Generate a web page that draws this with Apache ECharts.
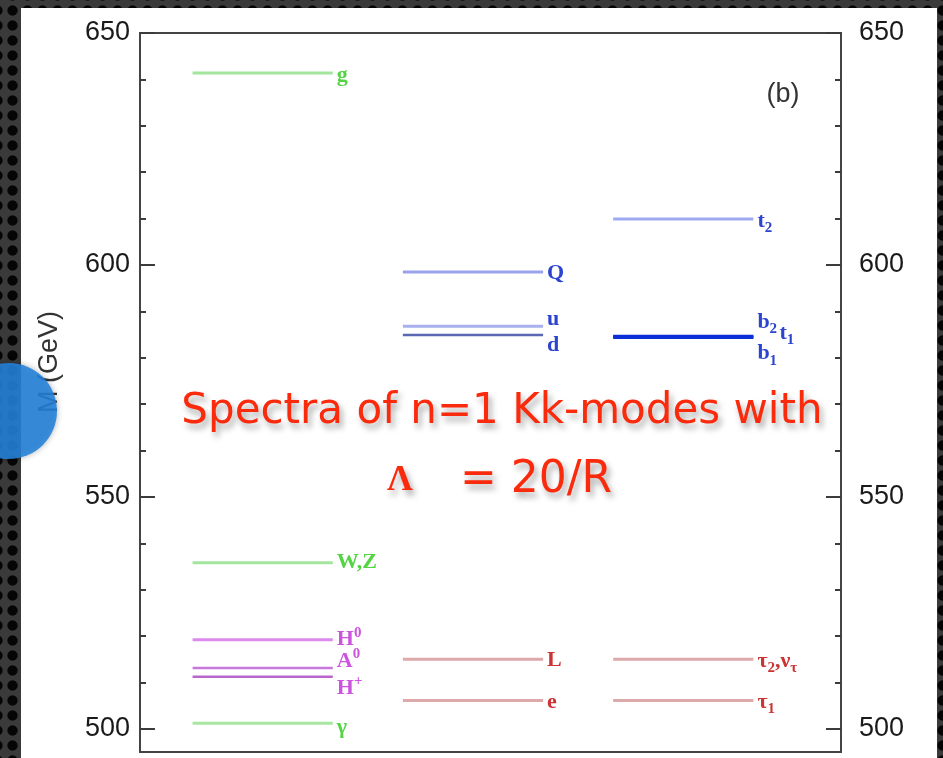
<!DOCTYPE html>
<html>
<head>
<meta charset="utf-8">
<script src="https://cdn.jsdelivr.net/npm/echarts@6/dist/echarts.min.js"></script>
<style>
  html, body {
    margin: 0; padding: 0; width: 943px; height: 758px; overflow: hidden;
    background-color: #3a3a3a;
    background-image: radial-gradient(circle, #050505 0, #050505 4.6px, rgba(0,0,0,0) 5.6px);
    background-size: 15px 15px;
    background-position: 5px 3px;
  }
  #panel { position: absolute; left: 21px; top: 8px; width: 916px; height: 750px; background: #fff; }
  #chart { position: absolute; left: 0; top: 0; width: 943px; height: 758px; }
</style>
</head>
<body>
<div id="panel"></div>
<div id="chart"></div>
<script>
// Mass axis (GeV)
const MASS_MIN = 495;
const MASS_MAX = 650;
const MAJOR_TICKS = [500, 550, 600, 650];
const MINOR_TICKS = [510, 520, 530, 540, 560, 570, 580, 590, 610, 620, 630, 640];

// Column index: 0 = gauge/Higgs, 1 = first-generation, 2 = third-generation
// Gauge bosons
const bosonLabels = ['g', 'W,Z', 'γ'];
const bosonMass   = [641.4, 535.8, 501.2];
const bosonCol    = [0, 0, 0];

// Higgs states
const higgsLabels = ['H{sup|0}', 'A{sup|0}', 'H{sup|+}'];
const higgsMass   = [519.2, 513.1, 511.2];
const higgsCol    = [0, 0, 0];

// Quarks
const quarkLabels = ['Q', 'u', 'd', 't{sub|2}', 'b{sub|2}', 't{sub|1}', 'b{sub|1}'];
const quarkMass   = [598.5, 586.8, 584.9, 609.9, 584.7, 584.5, 584.3];
const quarkCol    = [1, 1, 1, 2, 2, 2, 2];

// Leptons
const leptonLabels = ['L', 'e', 'τ{sub|2},ν{sub|τ}', 'τ{sub|1}'];
const leptonMass   = [515.0, 506.1, 515.0, 506.1];
const leptonCol    = [1, 1, 2, 2];

// ---- drawing styles ----
const COL_START = 7.5, COL_STEP = 30, COL_WIDTH = 20;   // x-axis units (0..100)
const LABEL_FONT = 'bold 22px "Liberation Serif", serif';
const SCRIPT_FONT = 'bold 15px "Liberation Serif", serif';
const SCRIPT_SHIFT = { sub: 7, sup: -7 };

const measureCtx = document.createElement('canvas').getContext('2d');
function textWidth(t, font) { measureCtx.font = font; return measureCtx.measureText(t).width; }

// split "t{sub|2}" style markup into runs
function parseRuns(s) {
  const runs = [];
  const re = /\{(sub|sup)\|([^}]*)\}/g;
  let last = 0, m;
  while ((m = re.exec(s))) {
    if (m.index > last) runs.push({ t: s.slice(last, m.index), kind: 'base' });
    runs.push({ t: m[2], kind: m[1] });
    last = re.lastIndex;
  }
  if (last < s.length) runs.push({ t: s.slice(last), kind: 'base' });
  return runs;
}

const families = [
  { labels: bosonLabels, mass: bosonMass, col: bosonCol, text: '#52d443',
    line: ['#a4e59e', '#a4e59e', '#a8e6a2'], width: [3, 3, 3],
    offset: [[0, 2], [0, 0], [0, 4]] },
  { labels: higgsLabels, mass: higgsMass, col: higgsCol, text: '#cc55dd',
    line: ['#dc8aec', '#c878dc', '#b866cc'], width: [3, 2.5, 2.5],
    offset: [[0, 0], [0, -7], [0, 11]] },
  { labels: quarkLabels, mass: quarkMass, col: quarkCol, text: '#2c44d0',
    line: ['#9aa2ea', '#a9b0ee', '#5a68b4', '#9eabf2', '#0c2fd6', '#0c2fd6', '#0c2fd6'],
    width: [3, 3, 2.5, 3, 2.5, 2.5, 2.5],
    offset: [[0, 1], [0, -7], [0, 10], [0, 2], [0, -14], [22, -4], [0, 16]] },
  { labels: leptonLabels, mass: leptonMass, col: leptonCol, text: '#cc3333',
    line: ['#dcaaaa', '#dcaaaa', '#dcaaaa', '#dcaaaa'], width: [3, 3, 3, 3],
    offset: [[0, 1], [0, 2], [0, 2], [0, 2]] }
];

function levelSeries(f) {
  return {
    type: 'custom',
    coordinateSystem: 'cartesian2d',
    clip: false,
    data: f.mass.map((m, i) => [f.col[i], m, i]),
    renderItem(params, api) {
      const col = api.value(0), m = api.value(1), i = api.value(2);
      const x0 = COL_START + COL_STEP * col;
      const a = api.coord([x0, m]);
      const b = api.coord([x0 + COL_WIDTH, m]);
      const off = f.offset[i];
      const children = [
        { type: 'line', shape: { x1: a[0], y1: a[1], x2: b[0], y2: b[1] },
          style: { stroke: f.line[i], lineWidth: f.width[i] } }
      ];
      let x = b[0] + 4 + off[0];
      const y = b[1] + off[1];
      parseRuns(f.labels[i]).forEach(r => {
        const font = r.kind === 'base' ? LABEL_FONT : SCRIPT_FONT;
        const dy = r.kind === 'base' ? 0 : SCRIPT_SHIFT[r.kind];
        children.push({ type: 'text', x: x, y: y + dy,
          style: { text: r.t, fill: f.text, font: font, align: 'left', verticalAlign: 'middle' } });
        x += textWidth(r.t, font);
      });
      return { type: 'group', children };
    }
  };
}

function massAxis(side, ticks, len, labels) {
  return {
    type: 'value', min: MASS_MIN, max: MASS_MAX, position: side,
    axisLine: { show: false }, splitLine: { show: false },
    axisTick: { show: true, inside: true, length: len, customValues: ticks,
                lineStyle: { color: '#3c3c3c', width: 2 } },
    axisLabel: labels ? { show: true, customValues: ticks, color: '#1a1a1a',
                          fontFamily: 'Liberation Sans', fontSize: 27,
                          margin: side === 'left' ? 10 : 18 } : { show: false }
  };
}

const SHADOW = { textShadowColor: 'rgba(0,0,0,0.35)', textShadowBlur: 6, textShadowOffsetX: 3, textShadowOffsetY: 5 };

const chart = echarts.init(document.getElementById('chart'), null, { renderer: 'canvas' });
chart.setOption({
  animation: false,
  grid: { left: 140, right: 102, top: 33, bottom: 6, show: true,
          borderColor: '#444', borderWidth: 2, backgroundColor: 'transparent' },
  xAxis: { type: 'value', min: 0, max: 100, show: false },
  yAxis: [
    massAxis('left', MAJOR_TICKS, 15, true),
    massAxis('left', MINOR_TICKS, 6, false),
    massAxis('right', MAJOR_TICKS, 15, true),
    massAxis('right', MINOR_TICKS, 6, false)
  ],
  series: families.map(levelSeries),
  graphic: [
    { type: 'text', x: 783, y: 95,
      style: { text: '(b)', font: '27px "Liberation Sans"', fill: '#333', align: 'center', verticalAlign: 'middle' } },
    { type: 'text', x: 50, y: 362, rotation: Math.PI / 2,
      style: { text: 'M (GeV)', font: '27px "Liberation Sans"', fill: '#333', align: 'center', verticalAlign: 'middle' } },
    { type: 'circle', shape: { cx: 9, cy: 411, r: 48 }, z: 50,
      style: { fill: '#2282da', opacity: 0.88, shadowBlur: 6, shadowColor: 'rgba(0,0,0,0.35)' } },
    { type: 'text', x: 502, y: 412, z: 60,
      style: Object.assign({ text: 'Spectra of n=1 Kk-modes with', font: '42px "DejaVu Sans"', fill: '#fa2a0c',
               align: 'center', verticalAlign: 'middle' }, SHADOW) },
    { type: 'text', x: 400, y: 481, z: 60,
      style: Object.assign({ text: 'Λ', font: 'bold 36px "Liberation Serif"', fill: '#fa2a0c',
               align: 'center', verticalAlign: 'middle' }, SHADOW) },
    { type: 'text', x: 536, y: 481, z: 60,
      style: Object.assign({ text: '= 20/R', font: '44px "DejaVu Sans"', fill: '#fa2a0c',
               align: 'center', verticalAlign: 'middle' }, SHADOW) }
  ]
});
</script>
</body>
</html>
